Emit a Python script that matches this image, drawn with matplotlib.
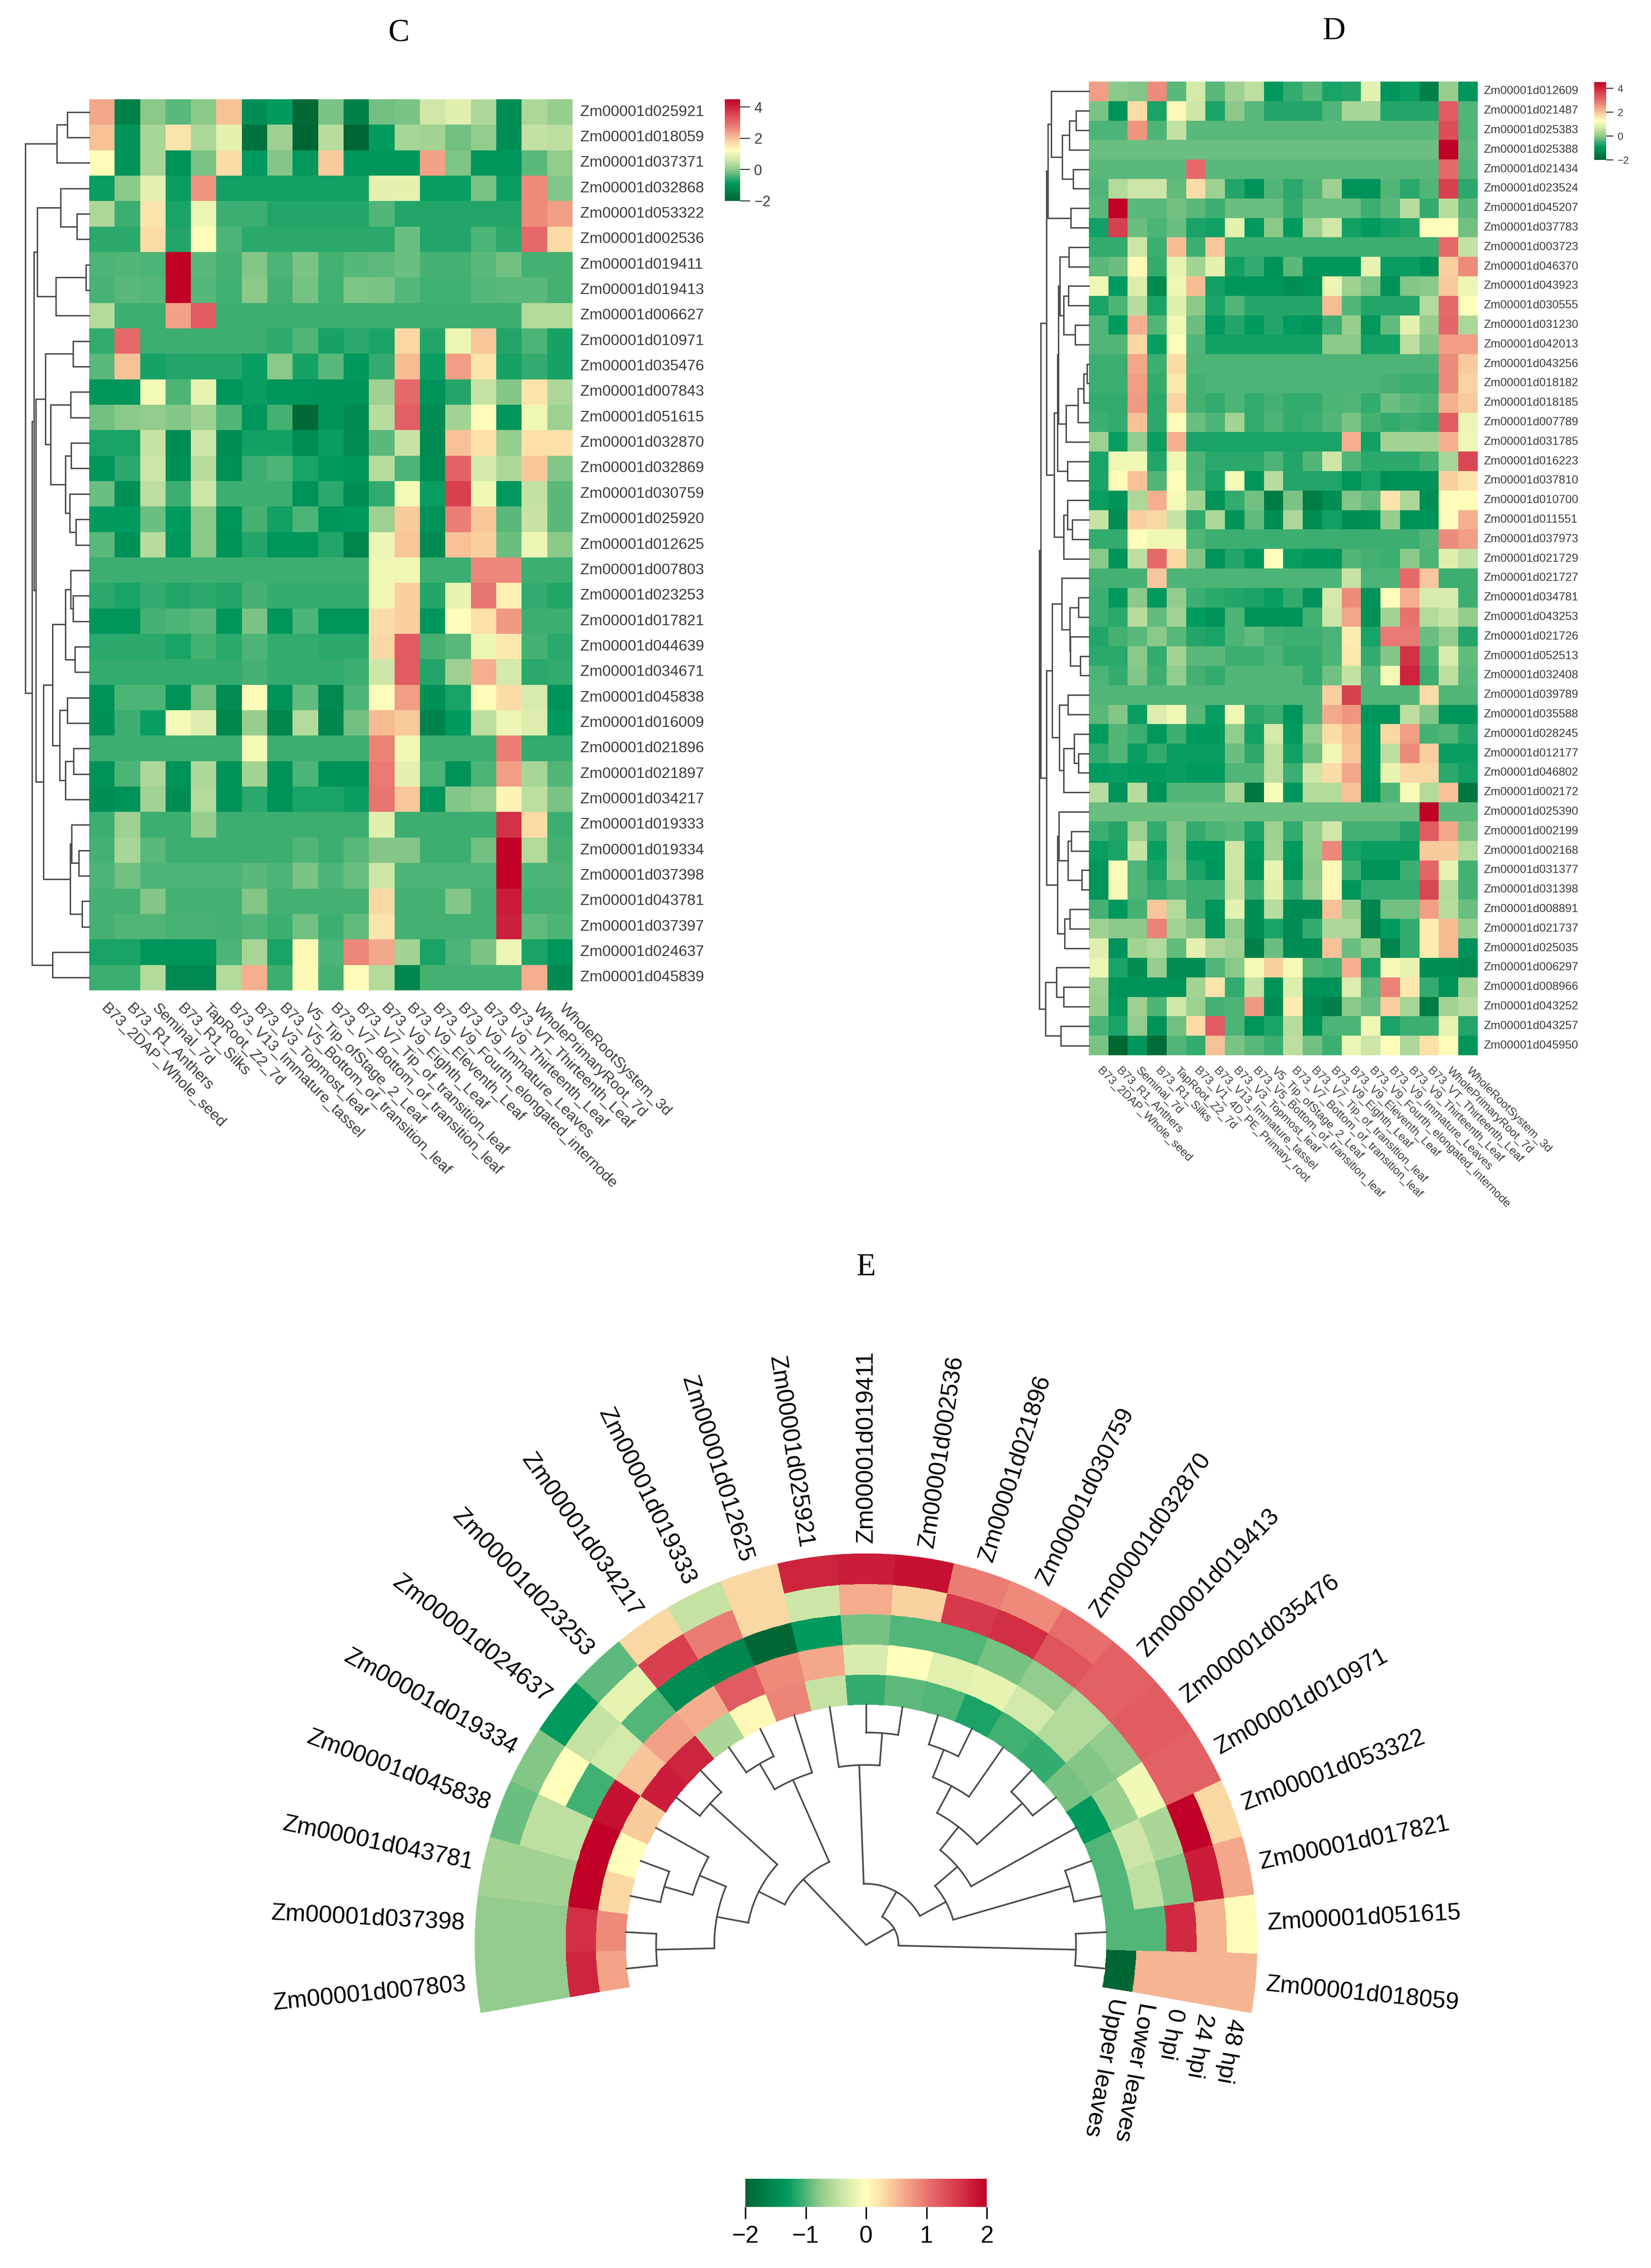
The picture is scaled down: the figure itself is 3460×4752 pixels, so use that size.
import numpy as np
import matplotlib
matplotlib.use('Agg')
import matplotlib.pyplot as plt
from matplotlib.colors import LinearSegmentedColormap, Normalize
from matplotlib.cm import ScalarMappable

plt.rcParams['font.family'] = ['Liberation Sans', 'DejaVu Sans']

W, H = 3460, 4752

# panel C
genes_c = ['025921','018059','037371','032868','053322','002536','019411','019413','006627','010971',
           '035476','007843','051615','032870','032869','030759','025920','012625','007803','023253',
           '017821','044639','034671','045838','016009','021896','021897','034217','019333','019334',
           '037398','043781','037397','024637','045839']
samples_c = ['B73_2DAP_Whole_seed','B73_R1_Anthers','Seminal_7d','B73_R1_Silks','TapRoot_Z2_7d',
             'B73_V13_Immature_tassel','B73_V3_Topmost_leaf','B73_V5_Bottom_of_transition_leaf',
             'V5_Tip_ofStage_2_Leaf','B73_V7_Bottom_of_transition_leaf','B73_V7_Tip_of_transition_leaf',
             'B73_V9_Eighth_Leaf','B73_V9_Eleventh_Leaf','B73_V9_Fourth_elongated_internode',
             'B73_V9_Immature_Leaves','B73_V9_Thirteenth_Leaf','B73_VT_Thirteenth_Leaf',
             'WholePrimaryRoot_7d','WholeRootSystem_3d']
values_c = [
 [2.3,-1.4,0,-.3,0,2,-1.1,-.85,-1.9,-.1,-1.4,-.15,-.1,.65,.85,.3,-1.1,.3,.1],
 [2,-1,.25,1.6,.3,.9,-1.7,.15,-2,.4,-2,-.85,.25,.2,-.15,.05,-1.1,.5,.45],
 [1.3,-1,.25,-1,-.1,1.7,-.9,-.05,-.9,1.9,-.95,-.95,-.95,2.35,-.08,-.95,-.95,-.3,.05],
 [-.8,0,.9,-.8,2.5,-.75,-.75,-.75,-.75,-.75,-.75,.9,.9,-.8,-.8,-.1,-.8,2.6,-.05],
 [.3,-.5,1.6,-.7,1,-.5,-.5,-.65,-.65,-.65,-.65,-.35,-.65,-.65,-.65,-.65,-.65,2.6,2.4],
 [-.6,-.6,1.7,-.65,1.3,-.4,-.6,-.6,-.6,-.6,-.6,-.6,-.2,-.65,-.65,-.4,-.6,3,1.7],
 [-.4,-.35,-.4,4.5,-.3,-.45,-.05,-.4,-.12,-.45,-.33,-.28,-.22,-.45,-.45,-.3,-.17,-.43,-.45],
 [-.42,-.3,-.33,4.5,-.33,-.47,0,-.45,-.13,-.47,-.08,-.12,-.33,-.47,-.47,-.33,-.3,-.3,-.43],
 [.35,-.5,-.5,2.35,3.2,-.5,-.5,-.5,-.5,-.5,-.5,-.5,-.5,-.5,-.5,-.5,-.5,.35,.35],
 [-.55,3,-.5,-.5,-.5,-.5,-.5,-.57,-.35,-.72,-.6,-.7,1.75,-.65,1,1.95,-.65,-.4,-.72],
 [-.3,2,-.72,-.65,-.65,-.65,-.8,0,-.72,-.3,-.9,-.55,2.05,-.8,2.4,1.6,-.72,-.55,-.72],
 [-.95,-.95,1.1,-.4,.95,-.95,-.8,-.95,-.95,-1,-1,.15,3,-1,-.65,.55,-.05,1.6,.3],
 [-.15,0,.05,-.05,.15,-.35,-.95,-.45,-1.9,-1,-1.2,.4,3.15,-1.15,.2,1.3,-.95,1.05,.15],
 [-.7,-.7,.55,-1.15,.6,-1.1,-.75,-.75,-1.15,-.8,-1.15,-.3,.55,-1.2,2,1.65,.1,1.65,1.65],
 [-.95,-.6,.6,-1.05,.4,-1.05,-.5,-.4,-.7,-.85,-.95,.4,-.4,-1.1,3.1,.7,.3,1.95,-.05],
 [-.2,-1.05,.45,-.5,.6,-.5,-.5,-.5,-1,-.6,-1.1,-.55,1.1,-.8,3.6,1.05,-.9,.5,-.3],
 [-.85,-.85,-.2,-.85,0,-.95,-.45,-.75,-.4,-.95,-.85,.15,1.9,-1,2.75,1.95,-.3,.55,-.3],
 [-.3,-1.05,.4,-.95,0,-1,-.65,-.95,-.95,-.65,-1.3,1,1.95,-1.2,2,1.85,-.2,1,0],
 [-.5,-.5,-.5,-.5,-.5,-.5,-.5,-.5,-.5,-.5,-.5,1.05,1.05,-.5,-.5,2.65,2.65,-.5,-.5],
 [-.6,-.7,-.55,-.65,-.6,-.65,-.45,-.55,-.55,-.55,-.55,1.05,1.85,-.65,.95,2.85,1.45,-.55,-.65],
 [-.95,-.95,-.45,-.4,-.3,-.95,-.1,-.95,-.4,-.95,-.95,1.7,1.85,-.95,1.25,1.65,2.45,-.5,-.5],
 [-.6,-.6,-.6,-.7,-.45,-.6,-.4,-.55,-.55,-.6,-.6,1.75,3.2,-.45,-.3,1,1.55,-.45,-.6],
 [-.55,-.55,-.55,-.55,-.55,-.55,-.45,-.55,-.55,-.55,-.5,.6,3.2,-.65,.15,2.2,.7,-.6,-.55],
 [-1,-.4,-.4,-1,-.15,-1.15,1.3,-1,-.25,-1.2,-.4,1.3,2.4,-1.05,-.7,1.3,1.7,.75,-1],
 [-1.05,-.5,-.8,1.1,.8,-1.3,.1,-1.3,.35,-1.3,-.15,2.1,1.9,-1.35,-.85,.45,1,.8,-.85],
 [-.5,-.5,-.5,-.5,-.5,-.5,1.1,-.5,-.5,-.5,-.5,2.7,1.05,-.5,-.5,-.5,2.75,-.55,-.55],
 [-1,-.4,.3,-1,.3,-1,.2,-1,-.4,-1,-1,2.8,.9,-.4,-1,-.4,2.4,.25,-.35],
 [-1.1,-1,.2,-1.1,.35,-1,-.6,-1,-.7,-.7,-.8,2.85,1.95,-.95,-.05,.05,1.4,.45,-.1],
 [-.5,.15,-.5,-.5,.1,-.5,-.5,-.5,-.5,-.5,-.5,.85,-.5,-.5,-.5,-.5,3.8,1.7,-.5],
 [-.45,.25,-.3,-.5,-.5,-.5,-.5,-.5,-.35,-.5,-.3,-.05,-.05,-.5,-.5,-.15,4.45,.35,-.45],
 [-.4,-.15,-.4,-.4,-.4,-.4,-.3,-.4,-.1,-.4,-.2,.6,-.4,-.4,-.4,-.4,4.45,-.4,-.4],
 [-.45,-.45,-.05,-.45,-.45,-.45,-.05,-.45,-.45,-.45,-.45,1.75,-.45,-.45,-.05,-.45,4.1,-.45,-.45],
 [-.45,-.35,-.35,-.42,-.42,-.45,-.35,-.5,-.15,-.5,-.25,1.6,-.45,-.45,-.45,-.45,4.05,-.25,-.4],
 [-.7,-.7,-.95,-.95,-.95,-.4,.25,-.7,1.35,-.4,2.65,2.3,.2,-.7,-.4,-.1,1,-.7,-.95],
 [-.5,-.5,.35,-1.2,-1.2,.35,2.2,-.5,1.35,-.45,1.3,.35,-1.25,-.45,-.45,-.45,-.45,2.2,-1.2],
]
# (height, left, right), leaves are row numbers
tree_c = (168,
    (85, (58, 0, 1), 2),
    (150,
        (145,
            (137, (75, 3, (32, 4, 5)), (88, (9, 6, 7), 8)),
            (140,
                (115, (43, 9, 10),
                    (101, (49, 11, 12),
                        (63, (48, 13, 14), (51, 15, (35, 16, 17))))),
                (120,
                    (97,
                        (63, (49, 18, (43, 19, 20)), (37, 21, 22)),
                        (78, (58, 23, 24), (63, (42, 25, 26), 27))),
                    (50, (46, 28, (27, 29, 30)), (19, 31, 32))))),
        (97, 33, 34)))

# panel D
genes_d = ['012609','021487','025383','025388','021434','023524','045207','037783','003723','046370',
           '043923','030555','031230','042013','043256','018182','018185','007789','031785','016223',
           '037810','010700','011551','037973','021729','021727','034781','043253','021726','052513',
           '032408','039789','035588','028245','012177','046802','002172','025390','002199','002168',
           '031377','031398','008891','021737','025035','006297','008966','043252','043257','045950']
samples_d = samples_c[:5] + ['B73_V1_4D_PE_Primary_root'] + samples_c[5:]
values_d = [
 [2.4,0,-.05,2.6,-.3,.7,-.3,.15,.45,-.9,-.55,-.3,-.7,-.65,.9,-.95,-.8,-1.4,.1,-.95],
 [-.1,-1,1.7,-.7,1.35,.6,-.7,0,-.3,-.65,-.65,-.65,-.35,.25,.25,-.65,-.65,-.65,3.2,-.35],
 [-.4,-.4,2.5,-.4,.5,-.3,-.3,-.3,-.3,-.3,-.3,-.3,-.3,-.3,-.3,-.3,-.3,-.3,3.4,-.35],
 [-.2,-.2,-.2,-.2,-.2,-.2,-.2,-.2,-.2,-.2,-.2,-.2,-.2,-.2,-.2,-.2,-.2,-.2,4.5,-.3],
 [-.3,-.3,-.3,-.3,-.3,3,-.3,-.3,-.3,-.3,-.3,-.3,-.3,-.3,-.3,-.3,-.3,-.3,3,-.35],
 [-.35,.35,.6,.6,-.25,1.7,.15,-.65,-1,-.35,-.6,-.35,.15,-1,-1,-.35,-.6,-.35,3.6,-.6],
 [-.3,4.5,-.3,-.3,-.15,-.3,-.5,-.2,-.2,-.2,-.55,-.2,-.2,-.2,-.5,-.3,.4,-.55,.4,-.3],
 [-.75,3.6,-.2,-.4,-.2,-.7,-.75,.9,-.85,0,-.85,.15,.65,-.75,-.85,-.75,-.65,1.25,1.25,-.15],
 [-.55,-.55,.6,-.5,2.05,-.5,1.95,-.5,-.5,-.5,-.5,-.5,-.5,-.5,-.5,-.5,-.5,-.5,3,.5],
 [-.3,-.2,1.35,-.55,.95,.2,.9,-.75,-.55,-1,-.3,-.95,-.95,-.95,.95,-.8,-.8,-1,1.85,2.6],
 [1.05,-.85,.8,-1.2,1.05,2.05,-.75,-.95,-.95,-.95,-1.1,-1,1,.15,-.1,-1,-.05,0,1.9,1],
 [-.7,-.4,.4,-.7,.85,0,-.7,-.35,-.65,-.65,-.65,-.65,2.05,-.35,-.65,-.65,-.65,.35,3,1.25],
 [-.35,-.85,2.2,-.35,1.05,-.2,-.85,-.65,-.85,-.65,-.85,-.95,-.5,.1,-.9,-.25,.9,.1,3.05,.3],
 [-.35,-.35,1.75,-.8,1.2,-.35,-.75,-.75,-.75,-.75,-.75,-.75,0,0,-.75,-.75,.45,-.05,2.4,2.4],
 [-.5,-.5,2.3,-.5,1.7,-.4,-.4,-.4,-.4,-.4,-.4,-.4,-.4,-.4,-.4,-.4,-.4,-.4,2.6,1.9],
 [-.5,-.5,2.4,-.55,1.55,-.45,-.4,-.4,-.4,-.4,-.4,-.4,-.4,-.4,-.4,-.45,-.5,-.5,2.6,1.8],
 [-.55,-.55,2.45,-.6,1.8,-.45,-.55,-.4,-.55,-.45,-.55,-.55,-.4,-.35,-.55,-.2,-.3,-.4,2.2,1.9],
 [-.5,-.55,2,-.6,1.3,-.2,-.4,.2,-.55,-.4,-.55,-.5,-.35,-.1,-.45,-.55,-.5,-.55,3.2,1],
 [.15,-.8,.05,-.8,2.2,-.7,-.7,-.7,-.7,-.7,-.7,-.7,-.7,2.2,-.75,.2,.2,.2,2.2,1.05],
 [-.7,1.05,1.05,-.65,1.05,-.4,-.6,-.6,-.6,-.4,-.65,-.35,.6,-.35,-.6,-.6,-.6,-.45,.25,3.5],
 [-.7,1.3,2,-.35,1.3,-.35,-.7,1.1,-.95,.4,-.65,-.65,-.65,-.95,-.7,-1.05,-1,-1,1.85,1.6],
 [-.8,-1,.3,2.2,1.1,.2,-1,-.55,-.15,-1.5,-.1,-1.5,-1.1,-.05,-.25,1.6,.3,-1.1,1.3,1.3],
 [.55,-1.15,1.85,1.75,.55,-.55,.3,-1,-.25,-1.1,.3,-1.1,-.75,-1.1,-1.05,.1,-1,-1,1.3,2.2],
 [-.55,-.55,1.25,1.05,1.05,-.35,-.5,-.5,-.5,-.5,-.5,-.5,-.5,-.5,-.5,-.5,-.5,-.35,2.6,2.4],
 [0,-1,.45,3,1.75,-.05,-1,-.65,-.9,1.25,-.8,-.95,-.95,-.35,-.45,-.5,0,-.4,.85,.5],
 [-.45,-.45,-.45,1.95,-.4,-.4,-.4,-.4,-.4,-.4,-.4,-.4,-.4,.55,-.4,-.4,3,1.95,-.5,-.5],
 [-.5,-.9,0,-.9,.05,-.5,-.6,-.65,-.7,-.8,-.55,-1,.7,2.6,-1,1.3,2.2,.75,.75,-.5],
 [-.5,-.6,.4,-.25,.2,-.85,-1,-.4,-1,-1,-1,-.45,.6,2.3,-1.05,.2,2.9,.35,.55,.05],
 [-.65,-.45,-.3,0,-.3,-.65,-.7,-.4,-.25,-.45,-.5,-.5,-.4,1.5,-.7,2.8,2.8,-.2,.05,-.65],
 [-.6,-.6,0,-.55,.2,-.3,-.3,-.5,-.5,-.4,-.55,-.55,-.4,1.55,-.55,-.05,3.8,-.4,.75,-.25],
 [-.4,-.55,-.05,-.5,.05,-.45,-.55,-.35,-.35,-.35,-.35,-.55,-.15,.5,-.35,1.1,4,-.5,.45,-.3],
 [-.35,-.35,-.35,-.35,-.35,-.35,-.35,-.35,-.35,-.35,-.35,-.35,1.85,3.6,-.35,-.35,-.35,1.7,-.35,-.35],
 [-.3,-.05,-.8,.8,1.05,-.3,-.8,1.05,-.6,-.5,-.95,-.35,2.25,2.5,-.95,-.95,.45,-.05,-.95,-.95],
 [-.85,-.35,-.5,-.9,-.5,-.85,-.85,.05,-.75,.7,-.85,.05,1.7,2.05,-.85,1.75,2.4,-.45,-.35,-.65],
 [-.55,-.35,-.8,-.55,-.8,-.8,-.8,-.2,-.6,.45,-.75,-.15,1.05,1.95,-.85,.45,2.6,1.85,-.8,-.8],
 [-.85,-.8,-.85,-.85,-.8,-.85,-.85,-.35,-.35,.45,-.5,.6,1.7,2.3,-.85,.95,1.75,1.75,-.6,-.75],
 [.4,-1,.4,-1,-.35,-.35,-.35,.25,-1.6,1.15,-.95,.35,.35,2,-.95,-.35,1.15,.35,2,-1.6],
 [-.2,-.2,-.2,-.2,-.2,-.2,-.2,-.2,-.2,-.2,-.2,-.2,-.2,-.2,-.2,-.2,-.2,4.5,-.3,-.3],
 [-.5,-.65,.15,-.55,-.05,-.55,-.4,-.3,-.7,.15,-.55,.1,.65,-.45,-.45,-.45,-.65,3.2,2.3,-.1],
 [-.8,-.7,.55,-.8,-.05,-.85,-.85,.6,-.85,.2,-.85,.05,2.65,-.7,-.8,-.8,-.8,1.9,1.9,.35],
 [-.95,1.2,-.35,-.7,0,-.7,-.95,.6,-.95,.95,-.95,0,1.35,-.5,-1,-1,-.5,3.05,.95,-.45],
 [-.95,1.1,-.35,-.55,-.35,-.5,-.5,.55,-.5,.85,-.55,.05,1.35,-.95,-.55,-.55,-.55,3.5,.35,-.45],
 [-.45,-.9,-.45,1.95,.35,-.5,-.95,.9,-1.1,.4,-1.15,-1.15,2,.1,-1.25,-.15,-.15,2.4,.4,-.2],
 [.15,0,0,2.7,.2,-.05,-1,.05,-1.1,-.7,-1.15,-.55,.3,.3,-1.35,-.85,-.55,1.5,2.1,.1],
 [.85,-1,.2,.35,-.25,.9,.3,.15,-1.4,-.2,-1.15,-1.1,2,-.2,.1,-1.3,-.55,1.5,2.1,-1],
 [1,-.7,-1.1,.1,-1.15,-1.15,-.35,0,1.1,1.85,1.1,-.35,-.45,2.2,-.7,1.1,.95,-1.1,-1.1,-1.2],
 [.15,-1,-1,-1,-1,.2,1.6,-.55,.5,-1,.8,-1,-1,.8,-.3,2.7,1.55,-.55,-1,.2],
 [.1,-.9,.15,-.4,.65,.15,-.45,-.4,2.45,-1.15,1.5,-1.15,-1.4,0,-.2,1.85,.25,-1.5,.2,.4],
 [-.4,-.7,.05,-1,-.15,1.7,3.2,-.4,-.95,-.7,.4,-1,-.4,-.4,1.05,-.7,-.5,-.5,.95,-.65],
 [-.1,-1.95,-.95,-1.85,-.35,-.55,2,-.1,-.3,-.5,.45,-.15,-.5,1,.6,1.3,.3,1.65,1.3,-.95],
]
tree_d = (142,
    (138,
        (122,
            (118,
                (108, 0, (77, (56, (37, 1, 2), 3), (45, 4, 5))),
                (52, 6, 7)),
            (100,
                (90,
                    (88,
                        (83, (58, 8, 9), (73, (59, 10, 11), (40, 12, 13))),
                        (65, (32, (15, (5, 14, 15), 16), 17), 18)),
                    (62, 19, 20)),
                (73, (62, 21, (48, 22, 23)), 24))),
        (122,
            (105,
                (78, 25, (55, (30, 26, 27), (53, 28, (25, 29, 30)))),
                (85, (60, 31, 32), (73, (43, 33, (30, 34, 35)), 36))),
            (90,
                (86, 37, (60, (50, 38, 39), (20, 40, 41))),
                (70, (55, 42, 43), 44)))),
    (124,
        (93, 45, (73, 46, 47)),
        (80, 48, 49)))

# panel E
genes_e = ['007803','037398','043781','045838','019334','024637','023253','034217','019333','012625',
           '025921','019411','002536','021896','030759','032870','019413','035476','010971','053322',
           '017821','051615','018059']
rings_e = ['Upper leaves', 'Lower leaves', '0 hpi', '24 hpi', '48 hpi']
upper_leaves = [.68,.85,.3,0,.4,1.75,1.7,-.6,.05,.9,-.45,-1.1,-.95,-1,-1.2,-1.05,-1.1,-.85,-1.3,-1,-1,-1,-2]
lower_leaves = [1.7,1.6,2,2,1.85,.45,.7,.6,1.2,.85,.65,-.3,0,-.25,-.2,-.35,-.55,-.8,-.7,-.4,-.5,-1,.55]
hpi_0 = [-.75,-.75,-.65,-.5,-1.05,-.35,-1,-1.5,-1.55,-2,-1.3,-.85,-1,-1,-.85,-.75,-.55,-.75,-.1,-.6,-.8,1.65,.55]
hpi_24 = [-.75,-.75,-.65,-.5,0,-.45,-.2,1.45,.95,.3,-.4,.62,.35,1.5,1.6,1.25,1.15,1.2,1.15,2,1.75,.55,.55]
hpi_48 = [-.75,-.75,-.65,-.9,-.8,-1.3,-.95,.3,-.45,.3,1.7,1.75,1.85,.95,.85,1.05,1.15,1.2,1.15,.3,.65,.02,.55]
tree_e = (0,
    (190,
        (251,
            (318, (440, 0, 1), (378, (440, 2, 3), 4)),
            (441, 5, 6)),
        (378, (440, 7, 8), 9)),
    (68,
        (128,
            (377, 10, (445, 11, 12)),
            (190,
                (252,
                    (314, (378, (440, 13, 14), 15), (442, 16, 17)),
                    18),
                (445, 19, 20))),
        (440, 21, 22)))

cmap = LinearSegmentedColormap.from_list('gyr', [
    (0, '#006633'), (.175, '#009A5F'), (.31, '#90CB8B'), (.4, '#CDE6A7'), (.5, '#FFFFBB'),
    (.57, '#FBDCA6'), (.67, '#F3A387'), (.77, '#E6696A'), (.9, '#D23045'), (1, '#C00027')])

TREE_COLOR = '#4a4a4a'
LABEL_COLOR = '#3a3a3a'


def box(x0, y0, x1, y1):
    # pixel box, y measured from the top of the picture
    return [x0 / W, 1 - y1 / H, (x1 - x0) / W, (y1 - y0) / H]


def draw_tree(ax, node):
    # returns leaf position and height of a node
    if isinstance(node, int):
        return node + .5, 0
    h, a, b = node
    ya, ha = draw_tree(ax, a)
    yb, hb = draw_tree(ax, b)
    ax.plot([ha, h, h, hb], [ya, ya, yb, yb], color=TREE_COLOR, lw=2.1, clip_on=False, solid_joinstyle='miter')
    return (ya + yb) / 2, h


def heat_panel(fig, genes, samples, values, tree, heat_box, tree_left, gene_size, sample_size, label_off, bar_box, tick_len, tick_size):
    x0, y0, x1, y1 = heat_box
    ax = fig.add_axes(box(x0, y0, x1, y1))
    ax.imshow(values, cmap=cmap, vmin=-2, vmax=4.5, aspect='auto', interpolation='nearest',
              extent=[0, len(samples), len(genes), 0])
    ax.set_axis_off()
    for i, g in enumerate(genes):
        ax.text(len(samples) + .3, i + .5, 'Zm00001d' + g, fontsize=gene_size, color=LABEL_COLOR,
                ha='left', va='center')
    for j, s in enumerate(samples):
        ax.annotate(s, (j + .5, len(genes)), xytext=label_off, textcoords='offset points', fontsize=sample_size,
                    color=LABEL_COLOR, rotation=-45, rotation_mode='anchor', ha='left', va='center')

    ax_t = fig.add_axes(box(tree_left, y0, x0, y1))
    ax_t.set_xlim(tree[0], 0)
    ax_t.set_ylim(len(genes), 0)
    ax_t.set_axis_off()
    draw_tree(ax_t, tree)

    cax = fig.add_axes(box(*bar_box))
    cb = fig.colorbar(ScalarMappable(Normalize(-2, 4.5), cmap), cax=cax, ticks=[-2, 0, 2, 4])
    cb.outline.set_visible(False)
    cax.tick_params(length=tick_len, width=1.6, labelsize=tick_size, colors='#3a3a3a', pad=6)


def draw_polar_tree(ax, node):
    if isinstance(node, int):
        return np.radians(START - STEP * (node + .5)), R_IN
    r, a, b = node
    ta, ra = draw_polar_tree(ax, a)
    tb, rb = draw_polar_tree(ax, b)
    ax.plot([ta, ta], [r, ra], color=TREE_COLOR, lw=2.5)
    ax.plot([tb, tb], [r, rb], color=TREE_COLOR, lw=2.5)
    if r > 0:
        ax.plot(np.linspace(ta, tb, 40), np.full(40, r), color=TREE_COLOR, lw=2.5)
    return (ta + tb) / 2, r


fig = plt.figure(figsize=(W / 100, H / 100), dpi=100, facecolor='white')

for letter, x, y in [('C', 835, 70), ('D', 2795, 66), ('E', 1815, 2656)]:
    fig.text(x / W, 1 - y / H, letter, family='Liberation Serif', fontsize=48, ha='center', va='center', color='black')

heat_panel(fig, genes_c, samples_c, np.array(values_c), tree_c, (187, 208, 1200, 2075), 53, 23, 23, (2, -24),
           (1519, 208, 1551, 421), 15, 22)
heat_panel(fig, genes_d, samples_d, np.array(values_d), tree_d, (2282, 171, 3097, 2211), 2178, 17.6, 17.6, (0, -21),
           (3341, 172, 3366, 335), 11, 15.5)

# panel E, polar heat rings
CX, CY, R_OUT, R_IN = 1815, 4075, 820, 504
START, SPAN = 190, 200
STEP = SPAN / len(genes_e)
ring_values = np.array([upper_leaves, lower_leaves, hpi_0, hpi_24, hpi_48])
SUB = 8  # split each wedge so the edges bend with the ring
theta = np.radians(np.linspace(START, START - SPAN, len(genes_e) * SUB + 1))
radii = np.linspace(R_IN, R_OUT, len(rings_e) + 1)

ax_e = fig.add_axes(box(CX - R_OUT, CY - R_OUT, CX + R_OUT, CY + R_OUT), projection='polar')
ax_e.pcolormesh(theta, radii, np.repeat(ring_values, SUB, axis=1), cmap=cmap, vmin=-2, vmax=2,
                shading='flat', edgecolor='face', linewidth=.3)
draw_polar_tree(ax_e, tree_e)
ax_e.set_ylim(0, R_OUT)
ax_e.set_axis_off()

for i, g in enumerate(genes_e):
    deg = START - STEP * (i + .5)
    left = deg > 90
    ax_e.text(np.radians(deg), R_OUT + 22, 'Zm00001d' + g, fontsize=36, color='black', clip_on=False,
              rotation=deg - 180 if left else deg, rotation_mode='anchor',
              ha='right' if left else 'left', va='center')
for k, name in enumerate(rings_e):
    r = (radii[k] + radii[k + 1]) / 2
    deg = START - SPAN - np.degrees(np.arcsin(18 / r))
    ax_e.text(np.radians(deg), r, name, fontsize=36, color='black', clip_on=False, rotation=-100,
              rotation_mode='anchor', ha='left', va='center')

cax_e = fig.add_axes(box(1562, 4565, 2068, 4624))
cb_e = fig.colorbar(ScalarMappable(Normalize(-2, 2), cmap), cax=cax_e, orientation='horizontal', ticks=[-2, -1, 0, 1, 2])
cb_e.outline.set_visible(False)
cax_e.tick_params(length=18, width=2.2, labelsize=36, colors='black', pad=10)

fig.savefig('out.png', dpi=100, facecolor='white')
